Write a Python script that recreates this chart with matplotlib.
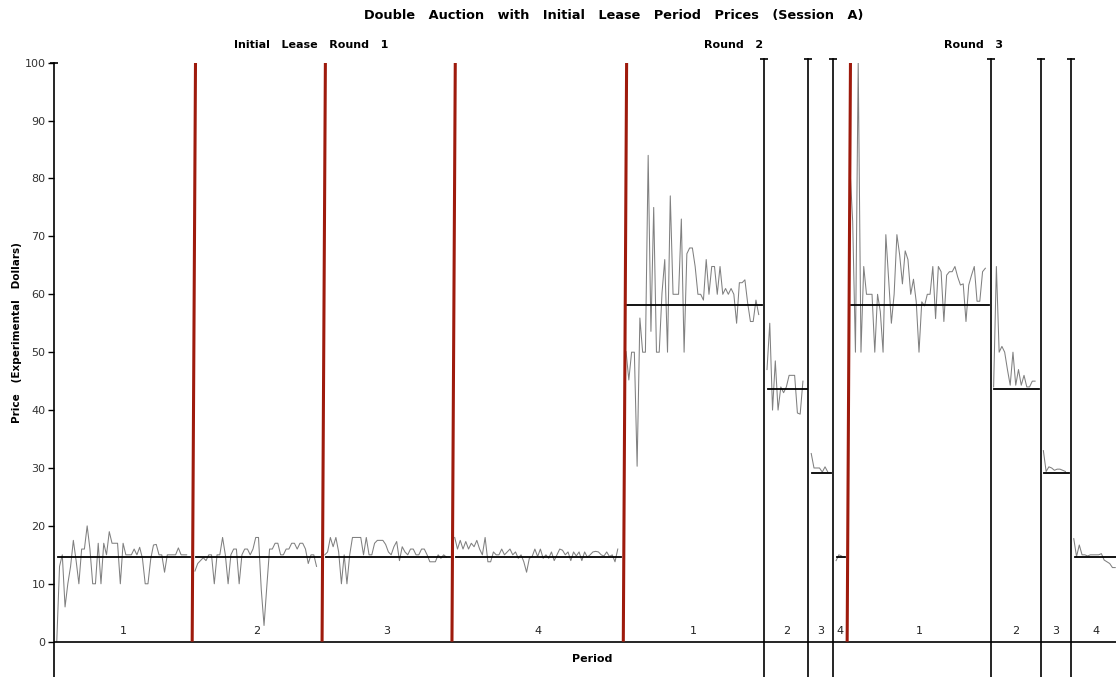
import matplotlib.pyplot as plt
import numpy as np

# contract prices, one list per period, in trade order
r1p1 = [0, 13, 15, 6, 10, 13, 17.5, 14, 10, 16, 16, 20, 16, 10, 10, 17, 10, 17, 15, 19,
        17, 17, 17, 10, 17, 15, 15, 15, 16, 15, 16.3, 14.4, 10, 10, 14.3, 16.7, 16.8, 15,
        15, 12, 15, 15, 15, 15, 16.2, 15, 15, 15]
r1p2 = [12.2, 13.5, 14, 14.5, 14, 15, 15, 10, 15, 15, 18, 15, 10, 15, 16, 16, 10, 15, 16,
        16, 15, 16, 18, 18, 9, 2.8, 9.5, 16, 16, 17, 17, 15, 15, 16, 16, 17, 17, 16, 17, 17,
        16, 13.5, 15, 15, 13]
r1p3 = [15, 15.5, 18, 16.4, 18, 15.5, 10, 15, 10, 15, 18, 18, 18, 18, 15, 18, 15, 15, 17,
        17.5, 17.5, 17.5, 16.8, 15.5, 15, 16.4, 17.3, 14, 16.4, 15.5, 15, 16, 16, 15, 15, 16,
        16, 15, 13.8, 13.8, 13.8, 15, 14.4, 15, 14.6]
r1p4 = [18, 16, 17.5, 16, 17.3, 16, 17, 16.4, 17.5, 16, 15, 18, 13.8, 13.8, 15.5, 15, 15,
        16, 15, 15.5, 16, 15, 15.5, 14.4, 15, 13.8, 12, 14.4, 14.7, 16, 14.7, 16, 14.4, 15,
        14.4, 15.5, 14, 15, 16, 15.8, 15, 15.5, 14, 15.5, 14.8, 15.5, 14, 15.5, 14.6, 15,
        15.5, 15.6, 15.5, 15, 14.8, 15.5, 14.7, 15, 13.8, 16]
r2p1 = [50.1, 45.2, 50, 50, 30.3, 55.9, 50, 50, 84, 53.6, 75, 50, 50, 60.2, 66, 50, 77, 60,
        60, 60, 73, 50, 67, 68, 68, 64.8, 60, 60, 59, 66, 60, 64.8, 64.8, 60, 64.8, 60, 61,
        60, 61, 60, 55, 62, 62, 62.5, 58.5, 55.3, 55.3, 59, 56.5]
r2p2 = [47, 55, 40, 48.5, 40, 44, 43, 44, 46, 46, 46, 39.5, 39.3, 45]
r2p3 = [32.5, 30, 30, 30, 29.3, 30.2, 29.3]
r2p4 = [14, 15, 14.8]
r3p1 = [82, 72.6, 50, 100, 50, 64.8, 60, 60, 60, 50, 60, 57, 50, 70.3, 62.7, 55, 60, 70.3,
        66.8, 61.8, 67.5, 66, 60, 62.6, 58.7, 50, 58.7, 58, 60, 60, 64.8, 55.8, 64.8, 63.9,
        55.3, 63.3, 63.9, 63.9, 64.8, 63, 61.6, 61.8, 55.3, 61.6, 63.3, 64.8, 58.8, 58.8,
        63.9, 64.5]
r3p2 = [44, 64.8, 50, 51, 50, 47, 44.3, 50, 44.3, 47, 44.3, 46, 44, 44, 45, 45]
r3p3 = [33, 29.4, 30.2, 30, 29.6, 29.8, 29.8, 29.6, 29.4]
r3p4 = [17.8, 14.7, 16.7, 15, 15, 14.8, 15, 15, 15, 15, 15.2, 14.1, 13.8, 13.5, 12.8, 12.8]

# competitive equilibrium price for each period
eq_round1 = [14.7, 14.7, 14.7, 14.7]
eq_round2 = [58.2, 43.7, 29.2, 14.7]
eq_round3 = [58.2, 43.7, 29.2, 14.7]

period_labels = ["1", "2", "3", "4"]
round_titles = ["Initial   Lease   Round   1", "Round   2", "Round   3"]

rounds = [[r1p1, r1p2, r1p3, r1p4],
          [r2p1, r2p2, r2p3, r2p4],
          [r3p1, r3p2, r3p3, r3p4]]
eqs = [eq_round1, eq_round2, eq_round3]

W, H = 1116, 677
fig = plt.figure(figsize=(W / 100, H / 100), dpi=100)
ax = fig.add_axes([54 / W, 0, 1 - 54 / W, (H - 62.7) / H])

ymin, ymax = -6.1, 100
gap = 2
red = "#9e1a0c"

x0 = 0
for ri, periods in enumerate(rounds):
    for pi, prices in enumerate(periods):
        start = x0
        end = start + len(prices) + gap
        xs = start + 1 + np.arange(len(prices))
        ax.plot(xs, prices, color="#808080", lw=0.75, zorder=3)
        ax.plot([start + 1.3, end - 0.7], [eqs[ri][pi]] * 2, color="black", lw=1.3, zorder=4)
        ax.text((start + end) / 2, 1.9, period_labels[pi], ha="center", va="center",
                fontsize=8, color="#222222")
        if ri == 2 and pi == 3:
            break
        if ri == 0 or pi == len(periods) - 1:
            # sloping red divider between lease periods and rounds
            ax.plot([end, end + 1.2], [0, 100], color=red, lw=2.2, zorder=5,
                    solid_capstyle="butt")
        else:
            ax.plot([end, end], [ymin, 100.7], color="black", lw=1.2, zorder=5,
                    clip_on=False)
            ax.plot([end], [100.7], marker="_", color="black", ms=6, mew=1.2,
                    clip_on=False, zorder=5)
        x0 = end

# session trade count up to the end of round 3, period 3
span = sum(len(p) + gap for p in rounds[0] + rounds[1] + rounds[2][:3])
pxu = (1071 - 54) / span
ax.set_xlim(0, (W - 54) / pxu)
ax.set_ylim(ymin, ymax)

ax.axhline(0, color="black", lw=1.2, zorder=4)

for s in ["top", "right", "bottom"]:
    ax.spines[s].set_visible(False)
ax.spines["left"].set_linewidth(1.2)
ax.plot([0], [100], marker="_", color="black", ms=6, mew=1.2, clip_on=False)
ax.set_xticks([])
ax.set_yticks(np.arange(0, 101, 10))
ax.tick_params(axis="y", direction="out", length=4, width=1, labelsize=8,
               labelcolor="#333333", pad=2)

ax.text((592 - 54) / pxu, -3.0, "Period", ha="center", va="center",
        fontsize=8, fontweight="bold")

fig.text(614 / W, 1 - 16 / H,
         "Double   Auction   with   Initial   Lease   Period   Prices   (Session   A)",
         ha="center", va="center", fontsize=9.3, fontweight="bold")
for cx, t in zip([311, 734, 973], round_titles):
    fig.text(cx / W, 1 - 45 / H, t, ha="center", va="center", fontsize=8,
             fontweight="bold")
fig.text(17 / W, 1 - 333 / H, "Price   (Experimental   Dollars)", rotation=90,
         ha="center", va="center", fontsize=7.5, fontweight="bold")

fig.savefig("out.png", dpi=100)
